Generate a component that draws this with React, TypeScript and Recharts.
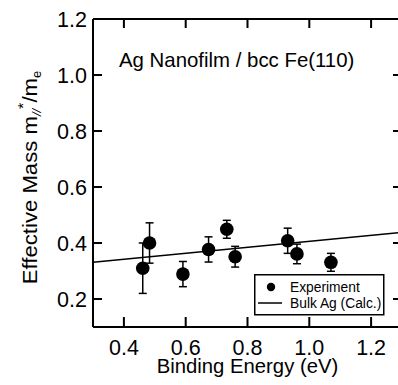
import React from 'react';
import { ComposedChart, XAxis, YAxis, Scatter, Line, ErrorBar, Legend, ReferenceLine } from 'recharts';

const energies = [0.461, 0.483, 0.591, 0.674, 0.733, 0.76, 0.93, 0.96, 1.07];
const masses = [0.31, 0.4, 0.289, 0.377, 0.449, 0.351, 0.408, 0.361, 0.331];
const errors = [0.09, 0.072, 0.045, 0.045, 0.032, 0.037, 0.045, 0.035, 0.032];

const calcEnergies = [0.3, 1.3];
const calcMasses = [0.331, 0.438];

const xTicks = [0.4, 0.6, 0.8, 1.0, 1.2];
const yTicks = [0.2, 0.4, 0.6, 0.8, 1.0, 1.2];

const X_DOMAIN = [0.3, 1.3];
const Y_DOMAIN = [0.1, 1.2];

const expData = energies.map((x, i) => ({ x, y: masses[i], err: errors[i] }));
const calcData = calcEnergies.map((x, i) => ({ x, y: calcMasses[i] }));

const FONT = '"Liberation Sans", Arial, Helvetica, sans-serif';
const axisStyle = { stroke: '#000', strokeWidth: 2 };

const CHART_W = 420;
const CHART_H = 385;
const M_TOP = 19;
const M_RIGHT = 18;
const Y_AXIS_W = 93;
const X_AXIS_H = 58;
const PLOT_TOP = M_TOP;
const PLOT_RIGHT = CHART_W - M_RIGHT;
const TICK_LEN = 9;

const Dot = (props: any) => <circle cx={props.cx} cy={props.cy} r={6.8} fill="#000" />;

const BottomTick = (props: any) => {
  const { x, y, payload } = props;
  return (
    <g className="bottom-tick">
      <rect x={x - 1} y={y - TICK_LEN - 1} width={2} height={TICK_LEN + 1} fill="#000" />
      <rect x={x - 1} y={PLOT_TOP} width={2} height={TICK_LEN} fill="#000" />
      <text x={x} y={y + 28} textAnchor="middle" fontFamily={FONT} fontSize={21.5} fill="#000">
        {Number(payload.value).toFixed(1)}
      </text>
    </g>
  );
};

const LeftTick = (props: any) => {
  const { x, y, payload } = props;
  return (
    <g className="left-tick">
      <rect x={x} y={y - 1} width={TICK_LEN} height={2} fill="#000" />
      <rect x={PLOT_RIGHT - TICK_LEN} y={y - 1} width={TICK_LEN} height={2} fill="#000" />
      <text x={x - 6} y={y + 7.7} textAnchor="end" fontFamily={FONT} fontSize={21.5} fill="#000">
        {Number(payload.value).toFixed(1)}
      </text>
    </g>
  );
};

const YLabel = (props: any) => {
  const vb = props.viewBox || { x: 0, y: 19, width: 93, height: 308 };
  const cx = 37;
  const cy = vb.y + vb.height / 2 + 4.5;
  return (
    <text
      x={0}
      y={0}
      transform={`translate(${cx}, ${cy}) rotate(-90) scale(1.08, 1)`}
      textAnchor="middle"
      fontFamily={FONT}
      fontSize={20.5}
      fill="#000"
    >
      <tspan>Effective Mass m</tspan>
      <tspan fontSize={12} dy={4} fontStyle="italic">//</tspan>
      <tspan fontSize={15} dy={-13}>*</tspan>
      <tspan dy={9}>/m</tspan>
      <tspan fontSize={12} dy={4}>e</tspan>
    </text>
  );
};

const XLabel = (props: any) => {
  const vb = props.viewBox || { x: 93, y: 327, width: 309, height: 58 };
  return (
    <text x={vb.x + vb.width / 2} y={373} textAnchor="middle" fontFamily={FONT} fontSize={20.3} fill="#000">
      Binding Energy (eV)
    </text>
  );
};

const LegendBox = () => (
  <svg width={131} height={42} style={{ display: 'block' }}>
    <rect x={0.75} y={0.75} width={129} height={40} fill="#fff" stroke="#000" strokeWidth={1.5} />
    <circle cx={17} cy={13} r={4.2} fill="#000" />
    <text x={36} y={18} fontFamily={FONT} fontSize={13.8} fill="#000">Experiment</text>
    <line x1={4} y1={29} x2={28} y2={29} stroke="#000" strokeWidth={1.5} />
    <text x={36} y={34} fontFamily={FONT} fontSize={13.8} fill="#000">Bulk Ag (Calc.)</text>
  </svg>
);

export default function App() {
  return (
    <div style={{ position: 'absolute', left: 0, top: 0, width: 398, height: 385, overflow: 'hidden', background: '#fff' }}>
      <ComposedChart width={CHART_W} height={CHART_H} margin={{ top: M_TOP, right: M_RIGHT, left: 0, bottom: 0 }}>
        <XAxis
          dataKey="x"
          type="number"
          domain={X_DOMAIN}
          ticks={xTicks}
          interval={0}
          allowDataOverflow
          height={X_AXIS_H}
          tickSize={0}
          tickMargin={0}
          axisLine={axisStyle}
          tickLine={false}
          tick={BottomTick}
          label={{ content: XLabel } as any}
        />
        <YAxis
          dataKey="y"
          type="number"
          domain={Y_DOMAIN}
          ticks={yTicks}
          interval={0}
          allowDataOverflow
          width={Y_AXIS_W}
          tickSize={0}
          tickMargin={0}
          axisLine={axisStyle}
          tickLine={false}
          tick={LeftTick}
          label={{ content: YLabel } as any}
        />
        <ReferenceLine y={Y_DOMAIN[1]} stroke="#000" strokeWidth={2} ifOverflow="visible" />
        <ReferenceLine x={X_DOMAIN[1]} stroke="#000" strokeWidth={2} ifOverflow="visible" />
        <Line
          data={calcData}
          dataKey="y"
          stroke="#000"
          strokeWidth={1.5}
          dot={false}
          isAnimationActive={false}
          legendType="line"
        />
        <Scatter data={expData} dataKey="y" shape={Dot} isAnimationActive={false}>
          <ErrorBar dataKey="err" direction="y" width={4} stroke="#000" strokeWidth={1.5} isAnimationActive={false} />
        </Scatter>
        <Legend
          layout="horizontal"
          verticalAlign="middle"
          align="center"
          wrapperStyle={{ left: 254, top: 274, width: 131, height: 42 }}
          content={LegendBox}
        />
      </ComposedChart>
      <svg width={398} height={385} style={{ position: 'absolute', left: 0, top: 0, pointerEvents: 'none' }}>
        <text x={119} y={66.5} fontFamily={FONT} fontSize={20.4} fill="#000">Ag Nanofilm / bcc Fe(110)</text>
      </svg>
    </div>
  );
}
